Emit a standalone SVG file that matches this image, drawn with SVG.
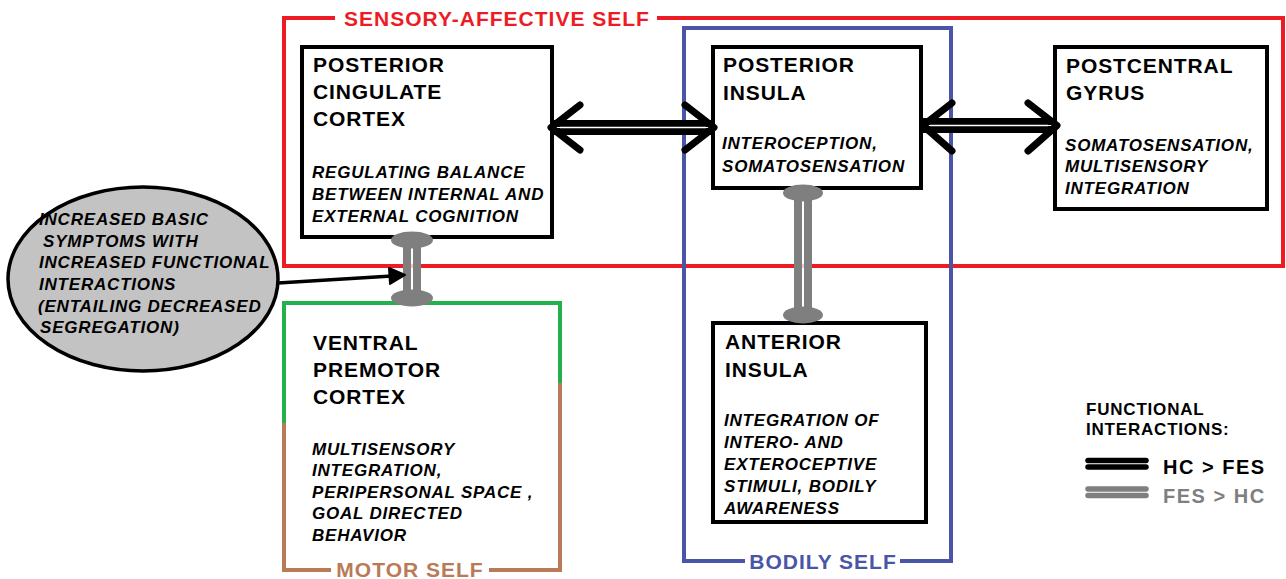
<svg xmlns="http://www.w3.org/2000/svg" width="1286" height="579" viewBox="0 0 1286 579">
<style>
.bg{fill:#fff}
.node{fill:#fff;stroke:#000;stroke-width:4}
.t{font-family:"Liberation Sans",Arial,sans-serif;font-weight:bold;font-size:21px;letter-spacing:0.9px;fill:#000}
.i{font-family:"Liberation Sans",Arial,sans-serif;font-weight:bold;font-style:italic;font-size:17px;letter-spacing:0.8px;fill:#000}
.grp{font-family:"Liberation Sans",Arial,sans-serif;font-weight:bold;font-size:21px;letter-spacing:1px}
.lg{font-family:"Liberation Sans",Arial,sans-serif;font-weight:bold;font-size:17px;letter-spacing:0.8px;fill:#000}
.lg2{font-family:"Liberation Sans",Arial,sans-serif;font-weight:bold;font-size:20px;letter-spacing:1.5px}
.shaft{stroke:#000;stroke-width:7;fill:none}
.gap{stroke:#fff;stroke-width:1.5;fill:none}
.head{stroke:#000;stroke-width:7;fill:none;stroke-linecap:round;stroke-linejoin:round}
.gcap{fill:#7f7f7f}
</style>
<rect class="bg" x="0" y="0" width="1286" height="579"/>

<g id="group-sensory-affective">
<path d="M335,18 H284 V266 H1283 V18 H657" fill="none" stroke="#ed1c24" stroke-width="4"/>
<text class="grp" x="497" y="26" text-anchor="middle" fill="#ed1c24">SENSORY-AFFECTIVE SELF</text>
</g>

<g id="group-bodily">
<path d="M745,561 H684 V28 H951 V561 H900" fill="none" stroke="#4a55a8" stroke-width="4"/>
<text class="grp" x="823" y="569" text-anchor="middle" fill="#4a55a8">BODILY SELF</text>
</g>

<g id="group-motor">
<path d="M284,423 V303 H560 V383" fill="none" stroke="#22b14c" stroke-width="4"/>
<path d="M284,423 V570 H331 M489,570 H560 V383" fill="none" stroke="#b97a57" stroke-width="4"/>
<text class="grp" x="410" y="577" text-anchor="middle" fill="#b97a57">MOTOR SELF</text>
</g>

<g id="node-pcc">
<rect class="node" x="302" y="47" width="250" height="190"/>
<text class="t" x="313" y="72">POSTERIOR</text>
<text class="t" x="313" y="99">CINGULATE</text>
<text class="t" x="313" y="126">CORTEX</text>
<text class="i" x="312" y="178">REGULATING BALANCE</text>
<text class="i" x="312" y="200">BETWEEN INTERNAL AND</text>
<text class="i" x="312" y="222">EXTERNAL COGNITION</text>
</g>

<g id="node-pi">
<rect class="node" x="713" y="47" width="208" height="141"/>
<text class="t" x="723" y="72">POSTERIOR</text>
<text class="t" x="723" y="100">INSULA</text>
<text class="i" x="722" y="149">INTEROCEPTION,</text>
<text class="i" x="722" y="172">SOMATOSENSATION</text>
</g>

<g id="node-pg">
<rect class="node" x="1055" y="47" width="212" height="162"/>
<text class="t" x="1066" y="73">POSTCENTRAL</text>
<text class="t" x="1066" y="100">GYRUS</text>
<text class="i" x="1065" y="151">SOMATOSENSATION,</text>
<text class="i" x="1065" y="172">MULTISENSORY</text>
<text class="i" x="1065" y="194">INTEGRATION</text>
</g>

<g id="node-ai">
<rect class="node" x="713" y="323" width="213" height="199"/>
<text class="t" x="725" y="349">ANTERIOR</text>
<text class="t" x="725" y="377">INSULA</text>
<text class="i" x="724" y="426">INTEGRATION OF</text>
<text class="i" x="724" y="448">INTERO- AND</text>
<text class="i" x="724" y="470">EXTEROCEPTIVE</text>
<text class="i" x="724" y="492">STIMULI, BODILY</text>
<text class="i" x="724" y="514">AWARENESS</text>
</g>

<g id="node-vpmc">
<text class="t" x="313" y="350">VENTRAL</text>
<text class="t" x="313" y="377">PREMOTOR</text>
<text class="t" x="313" y="404">CORTEX</text>
<text class="i" x="312" y="455">MULTISENSORY</text>
<text class="i" x="312" y="476">INTEGRATION,</text>
<text class="i" x="312" y="498">PERIPERSONAL SPACE ,</text>
<text class="i" x="312" y="519">GOAL DIRECTED</text>
<text class="i" x="312" y="541">BEHAVIOR</text>
</g>

<g id="node-symptoms">
<ellipse cx="143" cy="279" rx="135" ry="92" fill="#c3c3c3" stroke="#000" stroke-width="3.5"/>
<text class="i" x="39" y="225">INCREASED BASIC</text>
<text class="i" x="43" y="247">SYMPTOMS WITH</text>
<text class="i" x="39" y="268">INCREASED FUNCTIONAL</text>
<text class="i" x="39" y="290">INTERACTIONS</text>
<text class="i" x="38" y="312">(ENTAILING DECREASED</text>
<text class="i" x="40" y="333">SEGREGATION)</text>
</g>

<g id="legend">
<text class="lg" x="1086" y="415">FUNCTIONAL</text>
<text class="lg" x="1086" y="435">INTERACTIONS:</text>
<line x1="1088" y1="460.5" x2="1146" y2="460.5" stroke="#000" stroke-width="5.5" stroke-linecap="round"/>
<line x1="1088" y1="467" x2="1146" y2="467" stroke="#000" stroke-width="5.5" stroke-linecap="round"/>
<text class="lg2" x="1163" y="474" fill="#000">HC &gt; FES</text>
<line x1="1088" y1="489" x2="1146" y2="489" stroke="#7f7f7f" stroke-width="5.5" stroke-linecap="round"/>
<line x1="1088" y1="495.5" x2="1146" y2="495.5" stroke="#7f7f7f" stroke-width="5.5" stroke-linecap="round"/>
<text class="lg2" x="1163" y="503" fill="#7f7f7f">FES &gt; HC</text>
</g>

<g id="connectors">
<line class="shaft" x1="552" y1="123.5" x2="713" y2="123.5"/>
<line class="shaft" x1="552" y1="131.5" x2="713" y2="131.5"/>
<line class="gap" x1="560" y1="127.5" x2="706" y2="127.5"/>
<polyline class="head" points="580,105 551,127.5 580,150"/>
<polyline class="head" points="685,105 714,127.5 685,150"/>
<line class="shaft" x1="922" y1="121.5" x2="1056" y2="121.5"/>
<line class="shaft" x1="922" y1="129.5" x2="1056" y2="129.5"/>
<line class="gap" x1="930" y1="125.5" x2="1048" y2="125.5"/>
<polyline class="head" points="952,103 923,125.5 952,151"/>
<polyline class="head" points="1028,103 1057,125.5 1028,151"/>
<line x1="407" y1="240" x2="407" y2="298" stroke="#7f7f7f" stroke-width="8"/>
<line x1="417" y1="240" x2="417" y2="298" stroke="#7f7f7f" stroke-width="8"/>
<ellipse class="gcap" cx="412" cy="240" rx="21" ry="8.5"/>
<ellipse class="gcap" cx="412" cy="298" rx="21" ry="8.5"/>
<line x1="412" y1="249" x2="412" y2="289" stroke="#fff" stroke-width="1.5"/>
<line x1="798" y1="193" x2="798" y2="315" stroke="#7f7f7f" stroke-width="8"/>
<line x1="808" y1="193" x2="808" y2="315" stroke="#7f7f7f" stroke-width="8"/>
<ellipse class="gcap" cx="803" cy="193" rx="20" ry="8.5"/>
<ellipse class="gcap" cx="803" cy="315" rx="20" ry="8.5"/>
<line x1="803" y1="202" x2="803" y2="306" stroke="#fff" stroke-width="1.5"/>
<line x1="278" y1="283" x2="392" y2="276" stroke="#000" stroke-width="3.5"/>
<polygon points="405,275 389,268 390,284" fill="#000" stroke="#000" stroke-width="2" stroke-linejoin="round"/>
</g>
</svg>
